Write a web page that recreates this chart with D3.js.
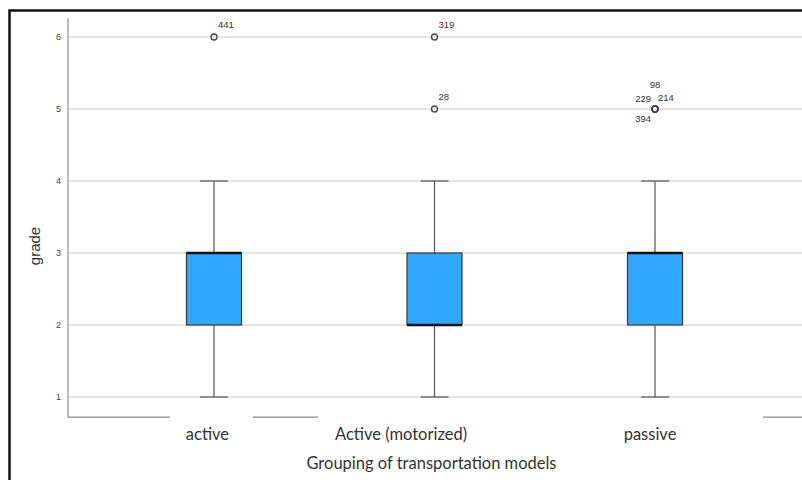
<!DOCTYPE html>
<html>
<head>
<meta charset="utf-8">
<script src="https://cdn.jsdelivr.net/npm/d3@7"></script>
<style>
  html, body { margin: 0; padding: 0; background: #fff; }
  svg { display: block; }
</style>
</head>
<body>
<svg id="chart" width="802" height="480"></svg>
<script>
// ---- data ----
const categories = ["active", "Active (motorized)", "passive"];
const whiskerLow  = [1, 1, 1];
const q1          = [2, 2, 2];
const median      = [3, 2, 3];
const q3          = [3, 3, 3];
const whiskerHigh = [4, 4, 4];
const outlierCategory = ["active", "Active (motorized)", "Active (motorized)", "passive", "passive", "passive", "passive"];
const outlierValue    = [6, 6, 5, 5, 5, 5, 5];
const outlierLabel    = ["441", "319", "28", "98", "229", "214", "394"];
const outlierLabelPos = ["ne", "ne", "ne", "n", "nw", "ne2", "sw"];
const yTicks = [1, 2, 3, 4, 5, 6];
const yTitle = "grade";
const xTitle = "Grouping of transportation models";

// ---- layout ----
const svg = d3.select("#chart");
const left = 68, right = 801;
const y = d3.scaleLinear().domain([1, 6]).range([397, 37]);
const x = d3.scalePoint().domain(categories).range([left, right]).padding(0.662);
const boxW = 55, capW = 28;

// frame
svg.append("rect").attr("x", 9.5).attr("y", 10.5).attr("width", 820).attr("height", 500)
  .attr("fill", "none").attr("stroke", "#111").attr("stroke-width", 2.5);

// gridlines
svg.append("g").selectAll("line").data(yTicks).join("line")
  .attr("x1", left).attr("x2", 802)
  .attr("y1", d => y(d)).attr("y2", d => y(d))
  .attr("stroke", "#dcdcdc").attr("stroke-width", 1.5);

// y axis
const yAxis = d3.axisLeft(y).tickValues(yTicks).tickSize(0).tickPadding(7).tickFormat(d3.format("d"));
const gy = svg.append("g").attr("transform", `translate(${left},0)`).call(yAxis);
gy.select(".domain").remove();
gy.selectAll("text").attr("font-family", "Arial, 'Liberation Sans', sans-serif")
  .attr("font-size", 9).attr("fill", "#444");
svg.append("line").attr("x1", left).attr("x2", left).attr("y1", y(6.26)).attr("y2", y(0.72))
  .attr("stroke", "#9a9a9a").attr("stroke-width", 1.3);

// x axis line (broken segments like the original)
const axY = y(0.72);
const segs = [[left, 170], [253, 318], [763, 802]];
svg.append("g").selectAll("line").data(segs).join("line")
  .attr("x1", d => d[0]).attr("x2", d => d[1]).attr("y1", axY).attr("y2", axY)
  .attr("stroke", "#8a8a8a").attr("stroke-width", 1.3);

// boxes
const boxes = categories.map((c, i) => ({c, lo: whiskerLow[i], q1: q1[i], med: median[i], q3: q3[i], hi: whiskerHigh[i]}));
const gb = svg.append("g").selectAll("g").data(boxes).join("g");
gb.append("line").attr("x1", d => x(d.c)).attr("x2", d => x(d.c))
  .attr("y1", d => y(d.hi)).attr("y2", d => y(d.q3)).attr("stroke", "#555").attr("stroke-width", 1.2);
gb.append("line").attr("x1", d => x(d.c)).attr("x2", d => x(d.c))
  .attr("y1", d => y(d.q1)).attr("y2", d => y(d.lo)).attr("stroke", "#555").attr("stroke-width", 1.2);
gb.append("line").attr("x1", d => x(d.c) - capW / 2).attr("x2", d => x(d.c) + capW / 2)
  .attr("y1", d => y(d.hi)).attr("y2", d => y(d.hi)).attr("stroke", "#555").attr("stroke-width", 1.2);
gb.append("line").attr("x1", d => x(d.c) - capW / 2).attr("x2", d => x(d.c) + capW / 2)
  .attr("y1", d => y(d.lo)).attr("y2", d => y(d.lo)).attr("stroke", "#555").attr("stroke-width", 1.2);
gb.append("rect").attr("x", d => x(d.c) - boxW / 2).attr("width", boxW)
  .attr("y", d => y(d.q3)).attr("height", d => y(d.q1) - y(d.q3))
  .attr("fill", "#2ea9ff").attr("stroke", "#3a3a3a").attr("stroke-width", 1.2);
gb.append("line").attr("x1", d => x(d.c) - boxW / 2).attr("x2", d => x(d.c) + boxW / 2)
  .attr("y1", d => y(d.med)).attr("y2", d => y(d.med)).attr("stroke", "#111").attr("stroke-width", 2.5);

// outliers
const outliers = outlierValue.map((v, i) => ({c: outlierCategory[i], v, label: outlierLabel[i], pos: outlierLabelPos[i]}));
svg.append("g").selectAll("circle").data(outliers).join("circle")
  .attr("cx", d => x(d.c)).attr("cy", d => y(d.v)).attr("r", 3)
  .attr("fill", "none").attr("stroke", "#444").attr("stroke-width", 1.3);
const off = { ne: [4, -9, "start"], ne2: [3, -8, "start"], n: [0, -21, "middle"], nw: [-4, -7, "end"], sw: [-4, 13, "end"] };
svg.append("g").selectAll("text").data(outliers).join("text")
  .attr("x", d => x(d.c) + off[d.pos][0]).attr("y", d => y(d.v) + off[d.pos][1])
  .attr("text-anchor", d => off[d.pos][2])
  .attr("font-family", "Arial, 'Liberation Sans', sans-serif").attr("font-size", 9.5).attr("fill", "#333")
  .text(d => d.label);

// category labels
const labelShift = [-6.5, -33.5, -5];
svg.append("g").selectAll("text").data(categories).join("text")
  .attr("x", (d, i) => x(d) + labelShift[i]).attr("y", 440)
  .attr("text-anchor", "middle")
  .attr("font-family", "Lato, 'Open Sans', sans-serif").attr("font-size", 16.5).attr("fill", "#333")
  .text(d => d);

// axis titles
svg.append("text").attr("x", 431.5).attr("y", 469).attr("text-anchor", "middle")
  .attr("font-family", "Lato, 'Open Sans', sans-serif").attr("font-size", 16.5).attr("fill", "#333")
  .text(xTitle);
svg.append("text").attr("transform", "translate(40,246) rotate(-90)").attr("text-anchor", "middle")
  .attr("font-family", "Arial, 'Liberation Sans', sans-serif").attr("font-size", 15).attr("fill", "#333")
  .text(yTitle);
</script>
</body>
</html>
